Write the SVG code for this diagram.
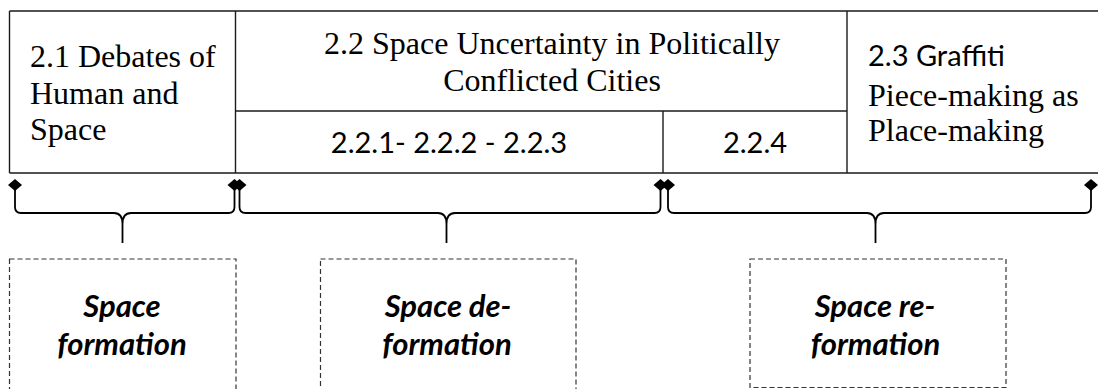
<svg xmlns="http://www.w3.org/2000/svg" width="1098" height="389" viewBox="0 0 1098 389">
  <defs>
    <style>
      .cell { fill: none; stroke: #1a1a1a; stroke-width: 1.4; }
      .sans { font-family: Lato, "Liberation Sans", sans-serif; font-size: 29px; fill: #000; }
      .label { font-family: Lato, "Liberation Sans", sans-serif; font-size: 31px; font-weight: bold; font-style: italic; fill: #000; text-anchor: middle; }
      .brace { fill: none; stroke: #000; stroke-width: 1.8; }
      .dash { fill: none; stroke: #333; stroke-width: 1.2; stroke-dasharray: 5 3; }
      .mid { text-anchor: middle; }
    </style>
    <path id="diamond" d="M0,-6 L7,0 L0,6 L-7,0 Z" fill="#000"/>
  </defs>
  <rect width="1098" height="389" fill="#fff"/>

  <g id="table-frame">
    <path class="cell" d="M9.5,11 H1098 M9.5,173 H1098 M9.5,11 V173"/>
  </g>

  <g id="node-2-1" font-family="'Liberation Serif', 'DejaVu Serif', serif" font-size="32">
    <path class="cell" d="M235.5,11 V173"/>
    <text x="30" y="67">2.1 Debates of</text>
    <text x="30" y="103.5">Human and</text>
    <text x="30" y="140">Space</text>
  </g>

  <g id="node-2-2" font-family="'Liberation Serif', 'DejaVu Serif', serif" font-size="32">
    <path class="cell" d="M235.5,111 H847"/>
    <text class="mid" x="552" y="53.5">2.2 Space Uncertainty in Politically</text>
    <text class="mid" x="552" y="90.5">Conflicted Cities</text>
  </g>

  <g id="node-2-2-1">
    <path class="cell" d="M663,111 V173"/>
    <text class="sans mid" x="449" y="152.5">2.2.1- 2.2.2 - 2.2.3</text>
  </g>

  <g id="node-2-2-4">
    <text class="sans mid" x="755" y="152.5">2.2.4</text>
  </g>

  <g id="node-2-3">
    <path class="cell" d="M847,11 V173"/>
    <text class="sans" x="868" y="66">2.3 Graffiti</text>
    <text x="868" y="105.5" font-family="'Liberation Serif', 'DejaVu Serif', serif" font-size="32">Piece-making as</text>
    <text x="868" y="141" font-family="'Liberation Serif', 'DejaVu Serif', serif" font-size="32">Place-making</text>
  </g>

  <g id="connectors">
    <use href="#diamond" x="15" y="185"/>
    <use href="#diamond" x="234.5" y="185"/>
    <use href="#diamond" x="239.5" y="185"/>
    <use href="#diamond" x="660.5" y="185"/>
    <use href="#diamond" x="668" y="185"/>
    <use href="#diamond" x="1091" y="185"/>
    <path class="brace" d="M15,190 V207 Q15,213 21,213 H114 Q122.5,213 122.5,224 V243 M122.5,224 Q122.5,213 131,213 H228.5 Q234.5,213 234.5,207 V190"/>
    <path class="brace" d="M239.5,190 V207 Q239.5,213 245.5,213 H438 Q446.5,213 446.5,224 V243 M446.5,224 Q446.5,213 455,213 H654.5 Q660.5,213 660.5,207 V190"/>
    <path class="brace" d="M668,190 V207 Q668,213 674,213 H867 Q875.5,213 875.5,224 V243 M875.5,224 Q875.5,213 884,213 H1085 Q1091,213 1091,207 V190"/>
  </g>

  <g id="node-space-formation">
    <rect class="dash" x="9.5" y="259" width="226.5" height="140"/>
    <text class="label" x="122" y="316.5">Space</text>
    <text class="label" x="122" y="355">formation</text>
  </g>

  <g id="node-space-deformation">
    <rect class="dash" x="320.5" y="259" width="255.5" height="140"/>
    <text class="label" x="448" y="316.5">Space de-</text>
    <text class="label" x="447" y="355">formation</text>
  </g>

  <g id="node-space-reformation">
    <rect class="dash" x="750" y="259" width="256" height="128.5"/>
    <text class="label" x="875" y="316.5">Space re-</text>
    <text class="label" x="875.5" y="355">formation</text>
  </g>
</svg>
